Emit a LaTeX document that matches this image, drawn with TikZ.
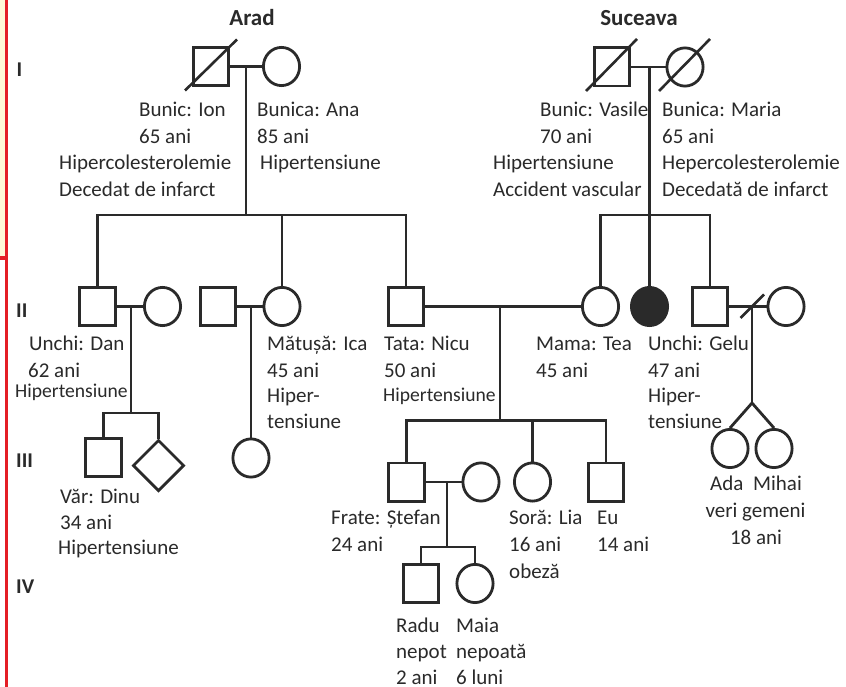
\documentclass[tikz,border=0pt]{standalone}
\usepackage{fontspec}
\setmainfont{Carlito}
\usetikzlibrary{shapes.geometric}
\definecolor{ink}{RGB}{42,42,42}
\definecolor{margred}{RGB}{228,30,38}
\definecolor{cream}{RGB}{255,247,215}
\tikzset{
  ind/.style={draw=ink, line width=2.8pt, inner sep=0pt},
  male/.style={ind, rectangle, minimum width=35.7pt, minimum height=38.2pt},
  female/.style={ind, ellipse, minimum width=36.2pt, minimum height=38.2pt},
  unknownsex/.style={ind, diamond, minimum width=51.2pt, minimum height=51.2pt},
  affected/.style={fill=ink},
  link/.style={draw=ink, line width=2.8pt},
  deadmark/.style={draw=ink, line width=2.6pt},
  lbl/.style={anchor=base west, inner sep=0pt, text=ink, font=\fontsize{21}{25}\selectfont},
  lblc/.style={lbl, anchor=base},
  narrow/.style={font=\fontsize{19.6}{24}\selectfont},
  head/.style={anchor=base, inner sep=0pt, text=ink, font=\bfseries\fontsize{23}{27}\selectfont},
  gen/.style={anchor=base west, inner sep=0pt, text=ink, font=\bfseries\fontsize{21}{25}\selectfont},
}
\begin{document}
\begin{tikzpicture}[x=1pt,y=-1pt]
\useasboundingbox (0,0) rectangle (846,687);
\fill[white] (0,0) rectangle (846,687);

% left margin band
\fill[cream] (0,0) rectangle (5,257);
\draw[margred, line width=3.8pt] (6.4,0) -- (6.4,687);
\draw[margred, line width=3.5pt] (0,258) -- (6.4,258);

% family headings and generation numbers
\node[head] (arad) at (252,26) {Arad};
\node[head] (suceava) at (639,26) {Suceava};
\node[gen] (g1) at (16.5,77) {I};
\node[gen] (g2) at (16,317) {II};
\node[gen] (g3) at (16,467) {III};
\node[gen] (g4) at (16,593) {IV};

% ---------- generation I ----------
\node[male] (ion) at (211,66.5) {};
\node[female] (ana) at (281.5,66.5) {};
\node[male] (vasile) at (612,67) {};
\node[female] (maria) at (685,67) {};
\draw[deadmark] ([shift={(-26,24)}]ion.center) -- ([shift={(26,-27)}]ion.center);
\draw[deadmark] ([shift={(-26,24)}]vasile.center) -- ([shift={(25,-28)}]vasile.center);
\draw[deadmark] ([shift={(-26,24)}]maria.center) -- ([shift={(25,-28)}]maria.center);

% ---------- generation II ----------
\node[male] (dan) at (97.5,306.5) {};
\node[female] (danw) at (162.5,306.5) {};
\node[male] (icah) at (218,306.5) {};
\node[female] (ica) at (282,306.5) {};
\node[male] (tata) at (406,306.5) {};
\node[female] (mama) at (600.5,306.5) {};
\node[female, affected] (aff) at (649.5,306.5) {};
\node[male] (gelu) at (710,306.5) {};
\node[female] (gelw) at (786,306.5) {};

% ---------- generation III ----------
\node[male] (dinu) at (103.5,457.5) {};
\node[unknownsex] (sibx) at (158.5,465.5) {};
\node[female] (icac) at (251,458) {};
\node[male] (stefan) at (406.5,482) {};
\node[female] (stefw) at (481,482) {};
\node[female] (lia) at (532.5,482) {};
\node[male] (eu) at (606,482) {};
\node[female] (ada) at (730,448.5) {};
\node[female] (mihai) at (774,448.5) {};

% ---------- generation IV ----------
\node[male] (radu) at (421,583.5) {};
\node[female] (maia) at (475,583.5) {};

% ---------- junction points ----------
\coordinate (mA) at (246,66.5);
\coordinate (sibA) at (246,215);
\coordinate (mB) at (649.5,67);
\coordinate (sibB) at (649.5,215);
\coordinate (mD) at (131,306.5);
\coordinate (sibD) at (131,413);
\coordinate (mI) at (251,306.5);
\coordinate (mT) at (500,306.5);
\coordinate (sibT) at (500,420.5);
\coordinate (mG) at (752,306.5);
\coordinate (apex) at (752,403);
\coordinate (mS) at (447,482);
\coordinate (sibS) at (447,547);

% ---------- connectors ----------
\draw[link] (ion) -- (ana);
\draw[link] (mA) -- (sibA);
\draw[link] (dan.north) |- (sibA) -| (tata.north);
\draw[link] (ica.north) -- (ica.north |- sibA);

\draw[link] (vasile) -- (maria);
\draw[link] (mB) -- (aff.north);
\draw[link] (mama.north) |- (sibB) -| (gelu.north);

\draw[link] (dan) -- (danw);
\draw[link] (mD) -- (sibD);
\draw[link] (dinu.north) |- (sibD) -| (sibx.north);

\draw[link] (icah) -- (ica);
\draw[link] (mI) -- (icac.north);

\draw[link] (tata) -- (mama);
\draw[link] (mT) -- (sibT);
\draw[link] (stefan.north) |- (sibT) -| (eu.north);
\draw[link] (lia.north) -- (lia.north |- sibT);

\draw[link] (gelu) -- (gelw);
\draw[deadmark] ([shift={(-11.5,11.5)}]mG) -- ([shift={(12,-12)}]mG);
\draw[link] (mG) -- (apex);
\draw[link] (ada.north) -- (apex) -- (mihai.north);

\draw[link] (stefan) -- (stefw);
\draw[link] (mS) -- (sibS);
\draw[link] (radu.north) |- (sibS) -| (maia.north);

% ---------- labels ----------
\node[lbl] (ion1) at (139,117) {Bunic: Ion};
\node[lbl] (ion2) at (139,143.5) {65 ani};
\node[lbl] (ion3) at (59,170) {Hipercolesterolemie};
\node[lbl] (ion4) at (59,196.5) {Decedat de infarct};

\node[lbl] (ana1) at (257,117) {Bunica: Ana};
\node[lbl] (ana2) at (257,143.5) {85 ani};
\node[lbl] (ana3) at (260,170) {Hipertensiune};

\node[lbl] (vas1) at (540,117) {Bunic: Vasile};
\node[lbl] (vas2) at (540,143.5) {70 ani};
\node[lbl] (vas3) at (493,170) {Hipertensiune};
\node[lbl] (vas4) at (493,196.5) {Accident vascular};

\node[lbl] (mar1) at (662,117) {Bunica: Maria};
\node[lbl] (mar2) at (662,143.5) {65 ani};
\node[lbl] (mar3) at (662,170) {Hepercolesterolemie};
\node[lbl] (mar4) at (662,196.5) {Decedată de infarct};

\node[lbl] (dan1) at (29,350) {Unchi: Dan};
\node[lbl] (dan2) at (28,377) {62 ani};
\node[lbl, narrow] (dan3) at (15,397) {Hipertensiune};

\node[lbl] (ica1) at (267,350) {Mătușă: Ica};
\node[lbl] (ica2) at (267,377) {45 ani};
\node[lbl] (ica3) at (267,402.5) {Hiper-};
\node[lbl] (ica4) at (267,428.5) {tensiune};

\node[lbl] (tata1) at (384,350) {Tata: Nicu};
\node[lbl] (tata2) at (384,377) {50 ani};
\node[lbl, narrow] (tata3) at (383,401) {Hipertensiune};

\node[lbl] (mama1) at (536,350) {Mama: Tea};
\node[lbl] (mama2) at (536,377) {45 ani};

\node[lbl] (gelu1) at (648,350) {Unchi: Gelu};
\node[lbl] (gelu2) at (648,377) {47 ani};
\node[lbl] (gelu3) at (648,402.5) {Hiper-};
\node[lbl] (gelu4) at (648,428.5) {tensiune};

\node[lbl] (dinu1) at (60,503) {Văr: Dinu};
\node[lbl] (dinu2) at (60,529) {34 ani};
\node[lbl] (dinu3) at (58,554) {Hipertensiune};

\node[lbl] (stef1) at (331,524.5) {Frate: Ștefan};
\node[lbl] (stef2) at (331,551.5) {24 ani};

\node[lbl] (lia1) at (509,524.5) {Soră: Lia};
\node[lbl] (lia2) at (509,551) {16 ani};
\node[lbl] (lia3) at (509,578) {obeză};

\node[lbl] (eu1) at (597,524.5) {Eu};
\node[lbl] (eu2) at (597,551) {14 ani};

\node[lbl] (ada1) at (710,490) {Ada};
\node[lbl] (mihai1) at (753,490) {Mihai};
\node[lblc] (tw2) at (755.5,517) {veri gemeni};
\node[lblc] (tw3) at (756,544) {18 ani};

\node[lbl] (radu1) at (396,632) {Radu};
\node[lbl] (radu2) at (396,658) {nepot};
\node[lbl] (radu3) at (396,684) {2 ani};

\node[lbl] (maia1) at (456,632) {Maia};
\node[lbl] (maia2) at (456,658) {nepoată};
\node[lbl] (maia3) at (456,684) {6 luni};
\end{tikzpicture}
\end{document}
